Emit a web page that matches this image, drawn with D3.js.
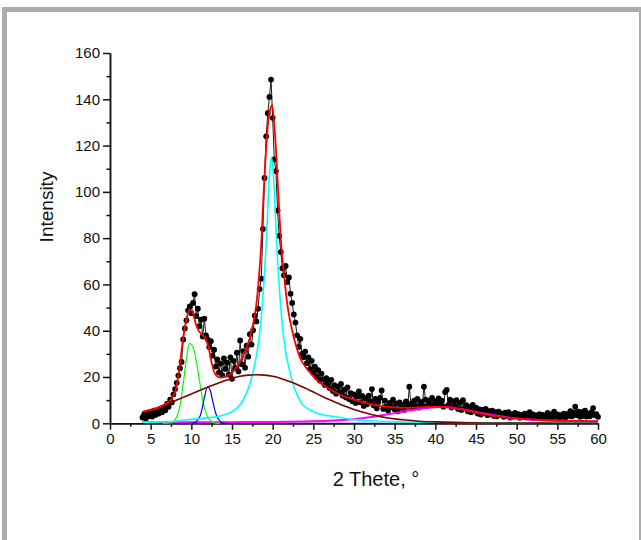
<!DOCTYPE html>
<html>
<head>
<meta charset="utf-8">
<script src="https://d3js.org/d3.v7.min.js"></script>
<style>
body { margin: 0; background: #fff; }
svg { display: block; }
.tick text { font-family: "Liberation Sans", Arial, sans-serif; font-size: 15px; fill: #111; }
.axis path, .axis line { stroke: #111; stroke-width: 1.5; }
</style>
</head>
<body>
<div id="chart"></div>
<script>
// measured scan: 2-theta from 4 to 60 deg, step 0.2
var thetaStart = 4, thetaStep = 0.2;
var intensity = [
  2.5, 3.8, 2.1, 4.5, 3.0, 4.8, 2.9, 5.5, 3.6, 5.0,
  4.2, 6.3, 4.8, 6.9, 5.6, 8.4, 7.1, 10.2, 9.0, 12.5,
  14.8, 17.5, 20.6, 23.8, 26.5, 36.2, 41.0, 44.5, 48.8, 50.5,
  47.6, 52.0, 55.8, 46.3, 49.5, 42.0, 44.8, 37.5, 45.2, 38.0,
  36.4, 33.0, 35.5, 29.2, 31.8, 24.5, 27.6, 22.0, 25.8, 20.8,
  28.0, 23.5, 26.2, 21.0, 28.5, 19.2, 27.0, 23.8, 30.5, 22.4,
  35.8, 25.5, 31.2, 24.0, 33.5, 28.8, 38.5, 34.0, 40.2, 46.5,
  44.0, 49.5, 58.0, 62.5, 84.0, 106, 124, 134, 141, 148.5,
  132, 114, 109, 92, 81, 74, 67, 64, 68, 61,
  63, 56, 52, 47, 43.5, 38, 33, 36.5, 30, 28.5,
  31, 26, 28.5, 23.5, 27, 22, 24.5, 20, 23, 18.5,
  21.5, 19, 16.5, 19.5, 17.5, 15.2, 18.8, 14.0, 16.5, 12.8,
  15.8, 13.5, 17.0, 12.0, 14.5, 11.2, 15.5, 10.5, 13.0, 9.5,
  12.5, 8.8, 11.5, 13.8, 9.0, 11.8, 7.5, 10.8, 8.2, 12.0,
  9.5, 14.8, 7.8, 10.5, 6.5, 9.2, 11.0, 14.2, 6.2, 9.8,
  7.2, 5.5, 8.8, 7.0, 10.2, 6.0, 8.5, 5.2, 9.0, 6.8,
  8.0, 5.8, 9.5, 7.2, 15.8, 8.5, 6.5, 9.8, 7.5, 10.5,
  6.8, 9.2, 8.0, 15.8, 10.2, 7.5, 9.8, 8.2, 11.0, 7.8,
  9.5, 8.0, 10.8, 8.5, 9.8, 7.2, 13.5, 14.4, 8.0, 10.2,
  6.8, 9.5, 7.5, 10.0, 6.2, 8.8, 5.8, 10.0, 6.5, 7.8,
  5.2, 7.0, 4.8, 8.0, 5.5, 6.8, 4.2, 6.0, 3.8, 5.8,
  4.5, 6.2, 3.5, 5.2, 4.0, 5.5, 3.2, 4.8, 3.0, 5.0,
  3.6, 4.2, 2.8, 4.6, 3.2, 4.8, 2.5, 3.8, 2.9, 4.5,
  3.0, 4.0, 2.4, 3.6, 2.8, 4.2, 2.6, 3.5, 4.8, 2.5,
  3.8, 2.2, 3.4, 2.8, 4.0, 2.3, 3.6, 2.5, 3.2, 4.5,
  2.6, 3.8, 2.4, 5.0, 3.0, 3.8, 2.2, 3.5, 2.8, 4.2,
  2.6, 4.0, 3.2, 5.2, 3.0, 4.5, 7.2, 3.5, 5.0, 2.8,
  4.8, 3.2, 5.5, 2.9, 4.2, 3.0, 4.8, 6.6, 3.5, 4.0,
  2.8
];

// fitted curves as [2theta, intensity]
var fitTotal = [[4,5],[5,5.8],[6,6.8],[7,8.8],[7.5,10.3],[8,13.5],[8.5,23],[9,37],[9.4,45],[9.8,49],
  [10.1,48.5],[10.5,43.5],[10.9,40],[11.3,38.5],[11.7,37],[12.1,33],[12.5,26],[12.9,21.5],[13.3,20],
  [13.8,19.8],[14.3,20.3],[15,21.8],[15.8,25.5],[16.6,31],[17.2,37],[17.9,49],[18.5,72],[18.9,100],
  [19.3,124],[19.6,134],[19.9,137.5],[20.2,129],[20.5,112],[20.8,92],[21.1,75],[21.5,60.5],[21.9,49],
  [22.4,40],[22.8,34.5],[23.4,28],[24,24.5],[24.8,21],[25.5,18.5],[26.4,16],[27.5,13.8],[28.5,12],
  [29.5,10.8],[31,9.2],[32.5,8],[34.5,7],[36.5,6.7],[38.5,7],[40,7.2],[41.5,7.1],[43,6.2],[44.5,5.1],
  [46,3.9],[48,2.8],[50,2.1],[52,1.6],[55,1.2],[58,1],[60,0.9]];
var peakBroad = [[4,4.8],[5,5.8],[6,7],[7,8.3],[8,9.7],[9,11.2],[10,12.7],[11,14.2],[12,15.6],[13,17],
  [14,18.3],[15,19.4],[16,20.3],[17,20.8],[18,21],[19,20.8],[20,20.3],[21,19.4],[22,18.2],[23,16.8],
  [24,15.2],[25,13.5],[26,11.8],[27,10.2],[28,8.7],[29,7.3],[30,6],[31,4.9],[32,3.9],[33,3.1],[34,2.4],
  [35,1.9],[36,1.5],[38,0.9],[40,0.6],[43,0.3],[46,0.15],[50,0.1],[55,0.05],[60,0.02]];
var peakMain = [[4,0.5],[6,0.6],[8,0.9],[9,1.4],[11,2],[13,2.8],[14,3.6],[15,5],[16,8],[17,15],[17.5,21],
  [18,29],[18.5,42],[19,65],[19.3,85],[19.6,107],[19.85,115],[20.1,107],[20.4,85],[20.7,65],[21.2,42],
  [21.7,29],[22.2,21],[22.7,15],[23.7,8],[24.7,5.5],[26,3.8],[28,2.7],[30,1.6],[32,1.1],[35,0.7],
  [40,0.45],[45,0.3],[50,0.2],[60,0.1]];
var peakGreen = [[6.5,0],[7,0.05],[7.5,0.3],[8,1.5],[8.5,6],[9,17],[9.4,28],[9.8,34.5],[10.2,33],
  [10.6,27],[11,18.5],[11.4,10],[11.8,4.5],[12.2,1.6],[12.6,0.5],[13,0.1],[13.5,0]];
var peakBlue = [[10,0],[10.5,0.5],[11,2.5],[11.3,6],[11.6,11],[12,15.8],[12.3,14.5],[12.6,10],
  [12.9,5.5],[13.2,2.5],[13.6,0.7],[14,0.1],[14.5,0]];
var peakMagenta = [[4,0.4],[10,0.5],[15,0.5],[20,0.6],[24,0.8],[27,1.1],[29,1.5],[31,2.2],[33,3.2],
  [35,4.4],[37,5.6],[39,6.6],[40.5,7],[42,6.7],[44,5.6],[46,4.2],[48,3],[50,2.1],[52,1.5],[55,1],
  [58,0.8],[60,0.7]];
var baseline = [[4,0],[60,0]];

var xTicks = [0, 5, 10, 15, 20, 25, 30, 35, 40, 45, 50, 55, 60];
var yTicks = [0, 20, 40, 60, 80, 100, 120, 140, 160];

var W = 641, H = 540;
var svg = d3.select("#chart").append("svg").attr("width", W).attr("height", H);

// grey frame
svg.append("rect").attr("x", 4.5).attr("y", 9.5).attr("width", 637).attr("height", 600)
  .attr("fill", "#fff").attr("stroke", "#adadad").attr("stroke-width", 5);

var x = d3.scaleLinear().domain([0, 60]).range([110, 598]);
var y = d3.scaleLinear().domain([0, 160]).range([423.3, 53]);

var pts = intensity.map(function(v, i) { return [thetaStart + i * thetaStep, v]; });

var line = d3.line().x(function(d) { return x(d[0]); }).y(function(d) { return y(d[1]); });
var smooth = d3.line().x(function(d) { return x(d[0]); }).y(function(d) { return y(d[1]); })
  .curve(d3.curveCatmullRom.alpha(0.5));

// axes (minor first, majors on top)
var minorX = d3.range(2.5, 60, 5);
var minorY = d3.range(10, 160, 20);
svg.append("g").attr("class", "axis").attr("transform", "translate(0," + y(0) + ")")
  .call(d3.axisBottom(x).tickValues(minorX).tickSize(3.5).tickSizeOuter(0).tickFormat(""));
svg.append("g").attr("class", "axis").attr("transform", "translate(" + x(0) + ",0)")
  .call(d3.axisLeft(y).tickValues(minorY).tickSize(3.5).tickSizeOuter(0).tickFormat(""));
svg.append("g").attr("class", "axis").attr("transform", "translate(0," + y(0) + ")")
  .call(d3.axisBottom(x).tickValues(xTicks).tickSize(6.5).tickSizeOuter(0).tickPadding(4));
svg.append("g").attr("class", "axis").attr("transform", "translate(" + x(0) + ",0)")
  .call(d3.axisLeft(y).tickValues(yTicks).tickSize(7).tickSizeOuter(0).tickPadding(3));

// measured points
svg.append("path").datum(pts).attr("d", line)
  .attr("fill", "none").attr("stroke", "#1a1a1a").attr("stroke-width", 1);
svg.append("g").selectAll("circle").data(pts).join("circle")
  .attr("cx", function(d) { return x(d[0]); })
  .attr("cy", function(d) { return y(d[1]); })
  .attr("r", 2.9).attr("fill", "#000");

// components and total fit
var curves = [
  { data: baseline, color: "#0000ff", w: 1.2 },
  { data: peakMagenta, color: "#ff00ff", w: 2 },
  { data: peakGreen, color: "#00ff00", w: 1.2 },
  { data: peakBlue, color: "#0000ff", w: 1.2 },
  { data: peakMain, color: "#00ffff", w: 1.6 },
  { data: peakBroad, color: "#800000", w: 1.6 },
  { data: fitTotal, color: "#ff0000", w: 1.8 }
];
curves.forEach(function(c) {
  svg.append("path").datum(c.data).attr("d", smooth)
    .attr("fill", "none").attr("stroke", c.color).attr("stroke-width", c.w);
});

// axis titles
svg.append("text").attr("x", 376).attr("y", 486).attr("text-anchor", "middle")
  .style("font-family", "Liberation Sans, Arial, sans-serif").style("font-size", "20px").style("fill", "#111")
  .text("2 Thete, °");
svg.append("text").attr("transform", "translate(53,207) rotate(-90)").attr("text-anchor", "middle")
  .style("font-family", "Liberation Sans, Arial, sans-serif").style("font-size", "19px").style("fill", "#111")
  .text("Intensity");
</script>
</body>
</html>
